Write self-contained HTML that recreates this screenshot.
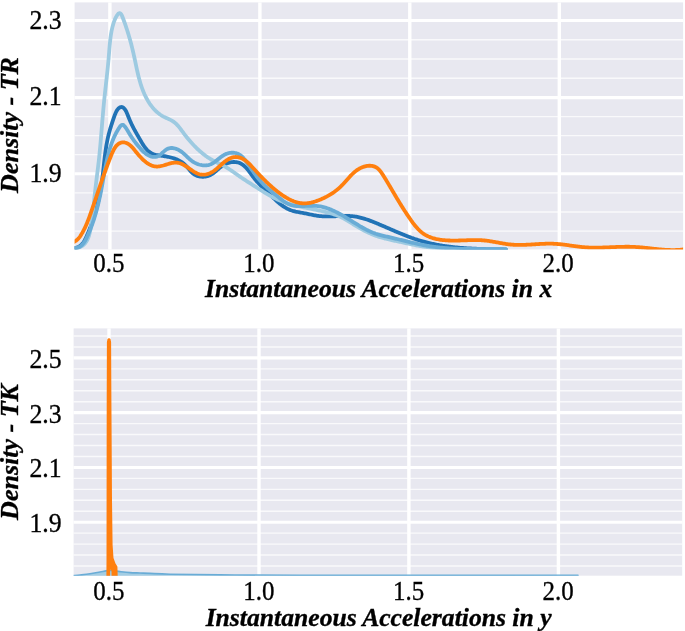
<!DOCTYPE html>
<html><head><meta charset="utf-8"><style>
html,body{margin:0;padding:0;background:#fff;width:685px;height:631px;overflow:hidden}
svg{display:block;will-change:transform}
.t{font-family:"Liberation Serif",serif;font-size:27.5px;fill:#000;stroke:#000;stroke-width:0.35px}
.l{font-family:"Liberation Serif",serif;font-size:26px;font-weight:bold;font-style:italic;fill:#000;stroke:#000;stroke-width:0.35px}
</style></head><body>
<svg width="685" height="631" viewBox="0 0 685 631">
<defs>
<clipPath id="c1"><rect x="74.6" y="2.4" width="608.5" height="247.0"/></clipPath>
<clipPath id="c2"><rect x="73.6" y="328.4" width="608.6" height="247.30000000000007"/></clipPath>
</defs>
<rect x="74.60" y="2.40" width="608.50" height="247.00" fill="#e8e8f0"/>
<line x1="74.60" x2="683.10" y1="39.77" y2="39.77" stroke="#fff" stroke-width="1.4" stroke-opacity="0.75"/>
<line x1="74.60" x2="683.10" y1="59.05" y2="59.05" stroke="#fff" stroke-width="1.4" stroke-opacity="0.75"/>
<line x1="74.60" x2="683.10" y1="78.32" y2="78.32" stroke="#fff" stroke-width="1.4" stroke-opacity="0.75"/>
<line x1="74.60" x2="683.10" y1="116.62" y2="116.62" stroke="#fff" stroke-width="1.4" stroke-opacity="0.75"/>
<line x1="74.60" x2="683.10" y1="135.65" y2="135.65" stroke="#fff" stroke-width="1.4" stroke-opacity="0.75"/>
<line x1="74.60" x2="683.10" y1="154.67" y2="154.67" stroke="#fff" stroke-width="1.4" stroke-opacity="0.75"/>
<line x1="74.60" x2="683.10" y1="192.85" y2="192.85" stroke="#fff" stroke-width="1.4" stroke-opacity="0.75"/>
<line x1="74.60" x2="683.10" y1="212.00" y2="212.00" stroke="#fff" stroke-width="1.4" stroke-opacity="0.75"/>
<line x1="74.60" x2="683.10" y1="231.15" y2="231.15" stroke="#fff" stroke-width="1.4" stroke-opacity="0.75"/>
<line x1="74.60" x2="683.10" y1="20.50" y2="20.50" stroke="#fff" stroke-width="3.1"/>
<line x1="74.60" x2="683.10" y1="97.60" y2="97.60" stroke="#fff" stroke-width="3.1"/>
<line x1="74.60" x2="683.10" y1="173.70" y2="173.70" stroke="#fff" stroke-width="3.1"/>
<line x1="109.90" x2="109.90" y1="2.40" y2="249.40" stroke="#fff" stroke-width="3.4"/>
<line x1="259.90" x2="259.90" y1="2.40" y2="249.40" stroke="#fff" stroke-width="3.4"/>
<line x1="409.80" x2="409.80" y1="2.40" y2="249.40" stroke="#fff" stroke-width="3.4"/>
<line x1="559.30" x2="559.30" y1="2.40" y2="249.40" stroke="#fff" stroke-width="3.4"/>
<rect x="73.60" y="328.40" width="608.60" height="247.30" fill="#e8e8f0"/>
<line x1="73.60" x2="682.20" y1="335.99" y2="335.99" stroke="#fff" stroke-width="1.4" stroke-opacity="0.75"/>
<line x1="73.60" x2="682.20" y1="346.95" y2="346.95" stroke="#fff" stroke-width="1.4" stroke-opacity="0.75"/>
<line x1="73.60" x2="682.20" y1="368.85" y2="368.85" stroke="#fff" stroke-width="1.4" stroke-opacity="0.75"/>
<line x1="73.60" x2="682.20" y1="379.81" y2="379.81" stroke="#fff" stroke-width="1.4" stroke-opacity="0.75"/>
<line x1="73.60" x2="682.20" y1="390.76" y2="390.76" stroke="#fff" stroke-width="1.4" stroke-opacity="0.75"/>
<line x1="73.60" x2="682.20" y1="401.71" y2="401.71" stroke="#fff" stroke-width="1.4" stroke-opacity="0.75"/>
<line x1="73.60" x2="682.20" y1="423.62" y2="423.62" stroke="#fff" stroke-width="1.4" stroke-opacity="0.75"/>
<line x1="73.60" x2="682.20" y1="434.57" y2="434.57" stroke="#fff" stroke-width="1.4" stroke-opacity="0.75"/>
<line x1="73.60" x2="682.20" y1="445.53" y2="445.53" stroke="#fff" stroke-width="1.4" stroke-opacity="0.75"/>
<line x1="73.60" x2="682.20" y1="456.48" y2="456.48" stroke="#fff" stroke-width="1.4" stroke-opacity="0.75"/>
<line x1="73.60" x2="682.20" y1="478.39" y2="478.39" stroke="#fff" stroke-width="1.4" stroke-opacity="0.75"/>
<line x1="73.60" x2="682.20" y1="489.34" y2="489.34" stroke="#fff" stroke-width="1.4" stroke-opacity="0.75"/>
<line x1="73.60" x2="682.20" y1="500.29" y2="500.29" stroke="#fff" stroke-width="1.4" stroke-opacity="0.75"/>
<line x1="73.60" x2="682.20" y1="511.25" y2="511.25" stroke="#fff" stroke-width="1.4" stroke-opacity="0.75"/>
<line x1="73.60" x2="682.20" y1="533.15" y2="533.15" stroke="#fff" stroke-width="1.4" stroke-opacity="0.75"/>
<line x1="73.60" x2="682.20" y1="544.11" y2="544.11" stroke="#fff" stroke-width="1.4" stroke-opacity="0.75"/>
<line x1="73.60" x2="682.20" y1="555.06" y2="555.06" stroke="#fff" stroke-width="1.4" stroke-opacity="0.75"/>
<line x1="73.60" x2="682.20" y1="566.01" y2="566.01" stroke="#fff" stroke-width="1.4" stroke-opacity="0.75"/>
<line x1="73.60" x2="682.20" y1="357.90" y2="357.90" stroke="#fff" stroke-width="3.1"/>
<line x1="73.60" x2="682.20" y1="412.67" y2="412.67" stroke="#fff" stroke-width="3.1"/>
<line x1="73.60" x2="682.20" y1="467.43" y2="467.43" stroke="#fff" stroke-width="3.1"/>
<line x1="73.60" x2="682.20" y1="522.20" y2="522.20" stroke="#fff" stroke-width="3.1"/>
<line x1="109.00" x2="109.00" y1="328.40" y2="575.70" stroke="#fff" stroke-width="3.4"/>
<line x1="259.00" x2="259.00" y1="328.40" y2="575.70" stroke="#fff" stroke-width="3.4"/>
<line x1="408.90" x2="408.90" y1="328.40" y2="575.70" stroke="#fff" stroke-width="3.4"/>
<line x1="558.40" x2="558.40" y1="328.40" y2="575.70" stroke="#fff" stroke-width="3.4"/>
<path d="M71.78,247.91 L73.00,247.98 L74.15,247.97 L75.23,247.86 L76.25,247.67 L77.21,247.39 L78.11,247.04 L78.96,246.63 L79.76,246.14 L80.51,245.59 L81.21,244.99 L81.87,244.33 L82.49,243.62 L83.08,242.87 L83.64,242.08 L84.16,241.25 L84.66,240.40 L85.14,239.51 L85.59,238.61 L86.03,237.69 L86.46,236.76 L86.87,235.82 L87.28,234.87 L87.68,233.93 L88.07,232.98 L88.46,232.04 L88.85,231.10 L89.23,230.15 L89.60,229.20 L89.97,228.26 L90.33,227.31 L90.69,226.37 L91.05,225.42 L91.39,224.47 L91.74,223.53 L92.07,222.58 L92.41,221.63 L92.73,220.68 L93.05,219.73 L93.37,218.78 L93.68,217.83 L93.99,216.88 L94.29,215.93 L94.59,214.97 L94.88,214.02 L95.17,213.07 L95.45,212.11 L95.73,211.16 L96.00,210.20 L96.26,209.24 L96.53,208.28 L96.78,207.33 L97.04,206.37 L97.28,205.40 L97.53,204.44 L97.77,203.48 L98.00,202.52 L98.23,201.55 L98.45,200.59 L98.67,199.62 L98.89,198.65 L99.10,197.68 L99.30,196.71 L99.50,195.74 L99.70,194.77 L99.89,193.79 L100.08,192.82 L100.26,191.84 L100.44,190.86 L100.62,189.89 L100.79,188.90 L100.95,187.92 L101.11,186.94 L101.27,185.95 L101.42,184.97 L101.57,183.98 L101.71,182.99 L101.85,182.00 L101.99,181.01 L102.12,180.01 L102.25,179.02 L102.38,178.02 L102.50,177.03 L102.62,176.03 L102.74,175.03 L102.86,174.03 L102.97,173.03 L103.09,172.03 L103.20,171.03 L103.31,170.03 L103.42,169.03 L103.53,168.03 L103.64,167.03 L103.75,166.03 L103.86,165.03 L103.97,164.03 L104.08,163.03 L104.19,162.03 L104.30,161.03 L104.42,160.03 L104.53,159.03 L104.65,158.03 L104.77,157.03 L104.89,156.04 L105.02,155.04 L105.14,154.05 L105.27,153.06 L105.41,152.06 L105.54,151.07 L105.69,150.09 L105.83,149.10 L105.98,148.11 L106.13,147.13 L106.29,146.15 L106.46,145.17 L106.63,144.19 L106.80,143.21 L106.98,142.24 L107.17,141.27 L107.36,140.30 L107.56,139.34 L107.77,138.37 L107.98,137.41 L108.20,136.45 L108.43,135.50 L108.67,134.54 L108.91,133.59 L109.16,132.64 L109.41,131.69 L109.68,130.74 L109.95,129.79 L110.22,128.84 L110.51,127.88 L110.80,126.93 L111.09,125.97 L111.39,125.01 L111.70,124.05 L112.02,123.09 L112.34,122.12 L112.67,121.14 L113.00,120.16 L113.34,119.18 L113.68,118.19 L114.03,117.19 L114.39,116.18 L114.75,115.18 L115.13,114.17 L115.53,113.19 L115.96,112.23 L116.42,111.31 L116.93,110.43 L117.49,109.61 L118.10,108.85 L118.76,108.19 L119.45,107.64 L120.17,107.25 L120.90,107.03 L121.64,107.01 L122.36,107.19 L123.07,107.55 L123.75,108.06 L124.39,108.71 L124.99,109.46 L125.53,110.29 L126.04,111.20 L126.51,112.16 L126.95,113.16 L127.37,114.20 L127.78,115.24 L128.18,116.28 L128.58,117.30 L128.99,118.31 L129.40,119.29 L129.81,120.25 L130.22,121.19 L130.64,122.12 L131.06,123.03 L131.48,123.93 L131.91,124.81 L132.34,125.69 L132.77,126.55 L133.21,127.41 L133.65,128.26 L134.10,129.10 L134.55,129.94 L135.01,130.78 L135.47,131.61 L135.93,132.44 L136.40,133.28 L136.88,134.11 L137.36,134.96 L137.85,135.80 L138.34,136.65 L138.83,137.51 L139.34,138.38 L139.84,139.26 L140.36,140.16 L140.88,141.06 L141.41,141.96 L141.95,142.86 L142.50,143.76 L143.06,144.66 L143.64,145.54 L144.23,146.40 L144.84,147.24 L145.47,148.06 L146.12,148.85 L146.79,149.60 L147.48,150.32 L148.20,150.99 L148.94,151.62 L149.70,152.20 L150.50,152.73 L151.33,153.20 L152.18,153.61 L153.06,153.97 L153.97,154.28 L154.89,154.55 L155.84,154.79 L156.80,155.00 L157.78,155.18 L158.77,155.35 L159.77,155.50 L160.77,155.64 L161.78,155.79 L162.80,155.93 L163.81,156.09 L164.82,156.25 L165.83,156.42 L166.84,156.61 L167.84,156.80 L168.84,157.01 L169.83,157.24 L170.82,157.48 L171.80,157.74 L172.77,158.02 L173.72,158.31 L174.67,158.63 L175.61,158.97 L176.53,159.34 L177.44,159.73 L178.33,160.14 L179.20,160.58 L180.06,161.06 L180.90,161.56 L181.72,162.09 L182.52,162.65 L183.30,163.25 L184.05,163.88 L184.78,164.55 L185.49,165.26 L186.18,165.99 L186.85,166.75 L187.51,167.52 L188.17,168.31 L188.82,169.09 L189.48,169.87 L190.14,170.64 L190.82,171.39 L191.52,172.11 L192.24,172.80 L192.99,173.45 L193.77,174.05 L194.59,174.60 L195.45,175.09 L196.35,175.51 L197.28,175.87 L198.24,176.18 L199.22,176.42 L200.22,176.60 L201.23,176.72 L202.25,176.78 L203.27,176.78 L204.30,176.72 L205.31,176.61 L206.31,176.43 L207.30,176.20 L208.26,175.91 L209.20,175.57 L210.10,175.17 L210.98,174.72 L211.83,174.22 L212.65,173.68 L213.46,173.11 L214.25,172.50 L215.02,171.88 L215.79,171.23 L216.55,170.57 L217.31,169.90 L218.07,169.23 L218.83,168.56 L219.61,167.90 L220.39,167.25 L221.19,166.63 L222.01,166.02 L222.84,165.45 L223.71,164.91 L224.60,164.41 L225.52,163.96 L226.46,163.54 L227.41,163.18 L228.39,162.86 L229.37,162.58 L230.36,162.36 L231.36,162.19 L232.35,162.07 L233.35,162.00 L234.33,161.99 L235.31,162.03 L236.27,162.13 L237.22,162.29 L238.14,162.51 L239.04,162.80 L239.92,163.14 L240.76,163.55 L241.58,164.01 L242.38,164.53 L243.15,165.09 L243.91,165.70 L244.64,166.35 L245.36,167.04 L246.06,167.76 L246.74,168.51 L247.41,169.29 L248.07,170.09 L248.73,170.91 L249.37,171.75 L250.01,172.59 L250.64,173.45 L251.26,174.30 L251.89,175.16 L252.52,176.01 L253.14,176.86 L253.77,177.69 L254.41,178.51 L255.04,179.31 L255.69,180.10 L256.34,180.87 L257.00,181.62 L257.66,182.36 L258.32,183.08 L258.99,183.80 L259.67,184.50 L260.35,185.20 L261.03,185.89 L261.71,186.57 L262.40,187.25 L263.09,187.92 L263.79,188.60 L264.49,189.27 L265.19,189.94 L265.89,190.61 L266.60,191.29 L267.30,191.97 L268.01,192.66 L268.72,193.35 L269.43,194.05 L270.14,194.75 L270.86,195.46 L271.57,196.17 L272.30,196.87 L273.02,197.58 L273.75,198.29 L274.48,198.99 L275.22,199.69 L275.97,200.39 L276.72,201.07 L277.48,201.75 L278.24,202.41 L279.01,203.07 L279.79,203.71 L280.58,204.34 L281.38,204.95 L282.18,205.54 L283.00,206.12 L283.83,206.67 L284.66,207.21 L285.51,207.72 L286.37,208.21 L287.25,208.67 L288.13,209.10 L289.03,209.51 L289.94,209.89 L290.87,210.23 L291.81,210.55 L292.75,210.84 L293.72,211.11 L294.68,211.36 L295.66,211.60 L296.65,211.81 L297.64,212.01 L298.63,212.21 L299.63,212.39 L300.63,212.57 L301.63,212.75 L302.63,212.93 L303.63,213.11 L304.63,213.29 L305.62,213.48 L306.61,213.68 L307.60,213.88 L308.58,214.09 L309.57,214.29 L310.55,214.50 L311.53,214.70 L312.50,214.90 L313.48,215.09 L314.46,215.28 L315.43,215.46 L316.41,215.62 L317.39,215.77 L318.37,215.91 L319.35,216.03 L320.33,216.14 L321.31,216.23 L322.30,216.30 L323.29,216.36 L324.28,216.41 L325.27,216.44 L326.26,216.46 L327.26,216.47 L328.25,216.47 L329.25,216.46 L330.25,216.44 L331.25,216.42 L332.25,216.39 L333.26,216.35 L334.26,216.31 L335.27,216.27 L336.28,216.22 L337.29,216.18 L338.29,216.13 L339.30,216.09 L340.31,216.05 L341.32,216.01 L342.33,215.98 L343.34,215.96 L344.35,215.94 L345.36,215.93 L346.36,215.93 L347.36,215.94 L348.36,215.96 L349.36,216.00 L350.36,216.05 L351.35,216.12 L352.34,216.21 L353.33,216.31 L354.31,216.43 L355.29,216.58 L356.26,216.74 L357.24,216.91 L358.20,217.11 L359.17,217.32 L360.13,217.54 L361.09,217.79 L362.05,218.04 L363.00,218.31 L363.95,218.59 L364.90,218.88 L365.85,219.19 L366.80,219.50 L367.74,219.83 L368.68,220.16 L369.62,220.51 L370.55,220.86 L371.49,221.21 L372.42,221.58 L373.35,221.94 L374.28,222.32 L375.21,222.70 L376.14,223.08 L377.07,223.46 L378.00,223.85 L378.92,224.24 L379.85,224.63 L380.77,225.02 L381.70,225.41 L382.62,225.81 L383.54,226.20 L384.47,226.60 L385.39,227.00 L386.31,227.40 L387.23,227.80 L388.15,228.20 L389.08,228.60 L390.00,229.00 L390.92,229.39 L391.84,229.79 L392.76,230.19 L393.68,230.59 L394.60,230.98 L395.53,231.38 L396.45,231.77 L397.37,232.16 L398.29,232.55 L399.22,232.94 L400.14,233.32 L401.07,233.70 L401.99,234.08 L402.92,234.46 L403.85,234.83 L404.78,235.20 L405.70,235.57 L406.64,235.93 L407.57,236.29 L408.50,236.65 L409.43,237.00 L410.37,237.34 L411.30,237.69 L412.24,238.02 L413.18,238.36 L414.12,238.68 L415.06,239.01 L416.01,239.32 L416.95,239.63 L417.90,239.94 L418.85,240.24 L419.80,240.53 L420.75,240.82 L421.71,241.10 L422.66,241.37 L423.62,241.64 L424.58,241.90 L425.54,242.15 L426.51,242.40 L427.47,242.64 L428.44,242.88 L429.41,243.11 L430.38,243.33 L431.35,243.55 L432.32,243.77 L433.30,243.97 L434.27,244.18 L435.25,244.37 L436.23,244.57 L437.21,244.75 L438.19,244.93 L439.17,245.11 L440.16,245.28 L441.14,245.45 L442.13,245.61 L443.11,245.76 L444.10,245.92 L445.09,246.06 L446.08,246.21 L447.07,246.34 L448.06,246.48 L449.06,246.61 L450.05,246.73 L451.05,246.85 L452.04,246.97 L453.04,247.08 L454.04,247.19 L455.03,247.30 L456.03,247.40 L457.03,247.50 L458.03,247.59 L459.03,247.68 L460.03,247.77 L461.03,247.85 L462.03,247.93 L463.03,248.01 L464.04,248.08 L465.04,248.15 L466.04,248.22 L467.04,248.28 L468.05,248.34 L469.05,248.40 L470.05,248.46 L471.06,248.51 L472.06,248.56 L473.06,248.61 L474.07,248.66 L475.07,248.70 L476.07,248.74 L477.08,248.78 L478.08,248.82 L479.08,248.85 L480.08,248.89 L481.09,248.92 L482.09,248.95 L483.09,248.97 L484.09,249.00 L485.09,249.02 L486.09,249.05 L487.09,249.07 L488.09,249.09 L489.09,249.11 L490.09,249.12 L491.09,249.14 L492.08,249.15 L493.08,249.17 L494.07,249.18 L495.07,249.19 L496.06,249.21 L497.06,249.22 L498.05,249.23 L499.04,249.24 L500.03,249.25 L501.02,249.26 L502.01,249.26 L502.99,249.27 L503.98,249.28 L504.96,249.29 L505.95,249.30" fill="none" stroke="#2173b6" stroke-width="3.80" stroke-linecap="round" stroke-linejoin="round" clip-path="url(#c1)"/>
<path d="M72.01,248.53 L72.97,248.59 L73.95,248.58 L74.95,248.49 L75.96,248.34 L76.98,248.13 L77.98,247.85 L78.97,247.51 L79.93,247.12 L80.85,246.67 L81.74,246.17 L82.57,245.62 L83.35,245.02 L84.07,244.37 L84.74,243.69 L85.36,242.96 L85.93,242.20 L86.46,241.40 L86.95,240.57 L87.40,239.71 L87.81,238.83 L88.19,237.92 L88.54,236.99 L88.86,236.03 L89.16,235.07 L89.43,234.09 L89.68,233.10 L89.92,232.09 L90.14,231.09 L90.34,230.08 L90.54,229.07 L90.73,228.06 L90.91,227.05 L91.09,226.04 L91.26,225.04 L91.42,224.04 L91.58,223.03 L91.73,222.03 L91.88,221.03 L92.02,220.04 L92.15,219.04 L92.29,218.05 L92.41,217.05 L92.54,216.06 L92.66,215.06 L92.78,214.07 L92.89,213.08 L93.00,212.09 L93.11,211.10 L93.21,210.11 L93.32,209.13 L93.42,208.14 L93.52,207.15 L93.62,206.17 L93.72,205.18 L93.81,204.19 L93.91,203.21 L94.00,202.22 L94.10,201.24 L94.20,200.25 L94.29,199.26 L94.39,198.28 L94.49,197.29 L94.59,196.31 L94.69,195.32 L94.79,194.33 L94.89,193.34 L95.00,192.36 L95.11,191.37 L95.22,190.38 L95.33,189.39 L95.45,188.40 L95.56,187.41 L95.68,186.42 L95.79,185.43 L95.91,184.44 L96.03,183.45 L96.15,182.46 L96.27,181.47 L96.40,180.47 L96.52,179.48 L96.64,178.49 L96.77,177.50 L96.89,176.50 L97.01,175.51 L97.14,174.52 L97.26,173.52 L97.38,172.53 L97.51,171.54 L97.63,170.54 L97.75,169.55 L97.87,168.55 L97.99,167.56 L98.11,166.56 L98.23,165.57 L98.35,164.57 L98.46,163.58 L98.58,162.58 L98.69,161.59 L98.80,160.59 L98.91,159.60 L99.02,158.60 L99.13,157.60 L99.23,156.61 L99.33,155.61 L99.44,154.62 L99.54,153.62 L99.63,152.63 L99.73,151.63 L99.83,150.64 L99.92,149.64 L100.02,148.64 L100.11,147.65 L100.20,146.65 L100.29,145.66 L100.38,144.66 L100.47,143.67 L100.55,142.67 L100.64,141.67 L100.72,140.68 L100.81,139.68 L100.89,138.69 L100.98,137.69 L101.06,136.70 L101.14,135.70 L101.22,134.70 L101.31,133.71 L101.39,132.71 L101.47,131.72 L101.55,130.72 L101.63,129.73 L101.71,128.73 L101.79,127.74 L101.87,126.74 L101.95,125.75 L102.03,124.75 L102.11,123.76 L102.19,122.76 L102.27,121.77 L102.35,120.77 L102.44,119.78 L102.52,118.78 L102.60,117.79 L102.68,116.79 L102.77,115.80 L102.85,114.80 L102.94,113.81 L103.02,112.82 L103.11,111.82 L103.20,110.83 L103.29,109.83 L103.38,108.84 L103.47,107.85 L103.56,106.85 L103.65,105.86 L103.75,104.87 L103.84,103.87 L103.94,102.88 L104.04,101.89 L104.14,100.90 L104.24,99.90 L104.34,98.91 L104.44,97.92 L104.55,96.93 L104.65,95.93 L104.76,94.94 L104.87,93.95 L104.98,92.96 L105.08,91.97 L105.19,90.97 L105.30,89.98 L105.41,88.99 L105.53,88.00 L105.64,87.00 L105.75,86.01 L105.86,85.02 L105.97,84.03 L106.08,83.04 L106.20,82.04 L106.31,81.05 L106.42,80.06 L106.53,79.07 L106.64,78.07 L106.75,77.08 L106.86,76.09 L106.97,75.09 L107.08,74.10 L107.19,73.11 L107.29,72.11 L107.40,71.12 L107.51,70.12 L107.61,69.13 L107.71,68.14 L107.81,67.14 L107.91,66.15 L108.01,65.15 L108.11,64.15 L108.20,63.16 L108.30,62.16 L108.39,61.16 L108.48,60.17 L108.57,59.17 L108.65,58.17 L108.74,57.17 L108.82,56.18 L108.90,55.18 L108.98,54.18 L109.06,53.18 L109.14,52.18 L109.21,51.18 L109.29,50.18 L109.37,49.19 L109.45,48.19 L109.54,47.19 L109.62,46.20 L109.71,45.20 L109.80,44.21 L109.89,43.22 L109.99,42.23 L110.10,41.24 L110.20,40.25 L110.32,39.26 L110.44,38.28 L110.56,37.30 L110.70,36.32 L110.84,35.34 L110.98,34.37 L111.14,33.39 L111.31,32.42 L111.48,31.45 L111.67,30.48 L111.87,29.51 L112.08,28.55 L112.31,27.58 L112.55,26.61 L112.81,25.64 L113.08,24.67 L113.37,23.70 L113.68,22.73 L114.02,21.75 L114.37,20.78 L114.76,19.80 L115.17,18.83 L115.63,17.86 L116.12,16.90 L116.66,15.96 L117.23,15.07 L117.82,14.29 L118.42,13.67 L119.03,13.26 L119.63,13.11 L120.21,13.24 L120.76,13.65 L121.25,14.29 L121.70,15.11 L122.11,16.04 L122.50,17.04 L122.88,18.04 L123.26,19.03 L123.63,20.02 L123.99,21.01 L124.35,21.99 L124.70,22.97 L125.05,23.95 L125.39,24.93 L125.72,25.90 L126.05,26.87 L126.38,27.83 L126.70,28.80 L127.01,29.76 L127.32,30.72 L127.62,31.68 L127.92,32.63 L128.22,33.59 L128.51,34.54 L128.79,35.50 L129.08,36.45 L129.35,37.40 L129.63,38.35 L129.90,39.30 L130.16,40.25 L130.42,41.20 L130.68,42.15 L130.93,43.10 L131.18,44.05 L131.43,45.00 L131.67,45.96 L131.91,46.91 L132.15,47.86 L132.38,48.82 L132.61,49.78 L132.84,50.74 L133.07,51.70 L133.29,52.66 L133.51,53.62 L133.73,54.59 L133.94,55.56 L134.16,56.53 L134.37,57.51 L134.58,58.49 L134.79,59.47 L134.99,60.45 L135.20,61.43 L135.41,62.41 L135.62,63.40 L135.82,64.38 L136.03,65.37 L136.24,66.36 L136.45,67.34 L136.67,68.33 L136.88,69.32 L137.10,70.30 L137.33,71.29 L137.55,72.28 L137.78,73.26 L138.01,74.24 L138.25,75.22 L138.49,76.20 L138.74,77.18 L139.00,78.16 L139.26,79.13 L139.52,80.10 L139.79,81.07 L140.07,82.03 L140.36,83.00 L140.65,83.95 L140.96,84.91 L141.27,85.86 L141.59,86.81 L141.91,87.75 L142.25,88.69 L142.60,89.62 L142.96,90.55 L143.32,91.47 L143.70,92.39 L144.09,93.30 L144.49,94.21 L144.91,95.11 L145.33,96.00 L145.77,96.89 L146.22,97.77 L146.69,98.64 L147.17,99.51 L147.66,100.37 L148.16,101.22 L148.69,102.07 L149.22,102.90 L149.77,103.73 L150.34,104.55 L150.92,105.35 L151.52,106.15 L152.14,106.93 L152.77,107.70 L153.42,108.45 L154.08,109.19 L154.76,109.91 L155.46,110.62 L156.18,111.31 L156.91,111.98 L157.67,112.63 L158.44,113.26 L159.23,113.87 L160.04,114.46 L160.87,115.02 L161.72,115.56 L162.59,116.08 L163.47,116.57 L164.38,117.04 L165.31,117.48 L166.24,117.91 L167.18,118.34 L168.12,118.76 L169.06,119.18 L169.98,119.62 L170.88,120.08 L171.76,120.56 L172.61,121.08 L173.43,121.63 L174.22,122.22 L174.98,122.84 L175.72,123.49 L176.43,124.17 L177.11,124.88 L177.78,125.60 L178.43,126.35 L179.07,127.11 L179.70,127.89 L180.31,128.68 L180.92,129.48 L181.51,130.29 L182.11,131.10 L182.71,131.91 L183.30,132.73 L183.90,133.54 L184.50,134.34 L185.11,135.15 L185.72,135.94 L186.34,136.73 L186.97,137.51 L187.60,138.29 L188.23,139.06 L188.88,139.83 L189.52,140.59 L190.18,141.35 L190.84,142.10 L191.50,142.84 L192.17,143.58 L192.85,144.31 L193.54,145.03 L194.23,145.75 L194.92,146.47 L195.63,147.17 L196.34,147.87 L197.05,148.57 L197.77,149.25 L198.50,149.93 L199.24,150.61 L199.98,151.27 L200.73,151.93 L201.49,152.57 L202.26,153.21 L203.03,153.84 L203.81,154.46 L204.60,155.07 L205.40,155.67 L206.20,156.25 L207.01,156.83 L207.84,157.39 L208.66,157.94 L209.50,158.47 L210.35,159.00 L211.21,159.50 L212.07,160.00 L212.94,160.48 L213.82,160.95 L214.71,161.41 L215.60,161.86 L216.50,162.31 L217.39,162.76 L218.29,163.20 L219.19,163.64 L220.09,164.08 L220.99,164.52 L221.88,164.97 L222.77,165.43 L223.66,165.89 L224.54,166.37 L225.42,166.85 L226.28,167.35 L227.14,167.87 L227.99,168.39 L228.83,168.92 L229.67,169.47 L230.51,170.02 L231.34,170.58 L232.16,171.14 L232.99,171.71 L233.80,172.29 L234.62,172.87 L235.44,173.44 L236.25,174.02 L237.07,174.60 L237.89,175.18 L238.70,175.75 L239.52,176.32 L240.34,176.89 L241.16,177.45 L241.99,178.00 L242.81,178.56 L243.64,179.11 L244.47,179.66 L245.30,180.20 L246.13,180.75 L246.97,181.29 L247.80,181.83 L248.64,182.36 L249.48,182.90 L250.31,183.44 L251.15,183.97 L251.99,184.51 L252.84,185.04 L253.68,185.58 L254.52,186.11 L255.36,186.65 L256.21,187.19 L257.05,187.73 L257.90,188.27 L258.74,188.81 L259.59,189.35 L260.44,189.88 L261.29,190.42 L262.14,190.96 L262.99,191.49 L263.85,192.02 L264.71,192.55 L265.56,193.07 L266.43,193.59 L267.29,194.10 L268.15,194.61 L269.02,195.11 L269.89,195.60 L270.77,196.09 L271.65,196.57 L272.53,197.04 L273.41,197.51 L274.30,197.96 L275.19,198.40 L276.09,198.84 L276.98,199.26 L277.89,199.67 L278.80,200.07 L279.71,200.46 L280.63,200.84 L281.55,201.20 L282.47,201.56 L283.40,201.90 L284.33,202.24 L285.27,202.56 L286.21,202.87 L287.15,203.18 L288.10,203.48 L289.04,203.76 L290.00,204.04 L290.95,204.32 L291.91,204.58 L292.87,204.84 L293.83,205.09 L294.80,205.34 L295.77,205.58 L296.73,205.81 L297.71,206.04 L298.68,206.26 L299.65,206.48 L300.63,206.70 L301.61,206.91 L302.59,207.12 L303.57,207.33 L304.55,207.53 L305.53,207.73 L306.51,207.93 L307.50,208.13 L308.48,208.33 L309.47,208.53 L310.45,208.72 L311.44,208.92 L312.42,209.12 L313.41,209.32 L314.39,209.52 L315.38,209.72 L316.36,209.92 L317.34,210.13 L318.33,210.34 L319.31,210.55 L320.29,210.76 L321.27,210.98 L322.25,211.20 L323.22,211.43 L324.20,211.66 L325.17,211.90 L326.14,212.14 L327.11,212.39 L328.08,212.65 L329.05,212.91 L330.01,213.18 L330.97,213.46 L331.93,213.74 L332.88,214.04 L333.83,214.34 L334.78,214.66 L335.72,214.98 L336.66,215.32 L337.59,215.68 L338.51,216.04 L339.43,216.43 L340.34,216.82 L341.24,217.24 L342.13,217.67 L343.02,218.12 L343.89,218.59 L344.76,219.07 L345.63,219.56 L346.49,220.06 L347.35,220.57 L348.20,221.09 L349.05,221.62 L349.90,222.15 L350.75,222.68 L351.60,223.22 L352.44,223.75 L353.29,224.28 L354.15,224.81 L355.00,225.34 L355.86,225.86 L356.72,226.37 L357.58,226.89 L358.45,227.39 L359.32,227.89 L360.19,228.39 L361.07,228.88 L361.94,229.36 L362.82,229.84 L363.71,230.30 L364.59,230.77 L365.49,231.22 L366.38,231.67 L367.28,232.10 L368.18,232.53 L369.08,232.95 L369.99,233.37 L370.90,233.77 L371.82,234.16 L372.74,234.54 L373.66,234.91 L374.59,235.27 L375.52,235.62 L376.45,235.96 L377.39,236.29 L378.33,236.60 L379.28,236.91 L380.23,237.20 L381.19,237.49 L382.14,237.76 L383.11,238.03 L384.07,238.29 L385.03,238.54 L386.00,238.78 L386.97,239.02 L387.95,239.25 L388.92,239.48 L389.90,239.70 L390.87,239.92 L391.85,240.14 L392.83,240.35 L393.81,240.56 L394.79,240.77 L395.78,240.98 L396.76,241.18 L397.74,241.39 L398.72,241.60 L399.70,241.80 L400.68,242.01 L401.66,242.23 L402.64,242.44 L403.62,242.65 L404.60,242.86 L405.58,243.08 L406.56,243.29 L407.53,243.50 L408.51,243.71 L409.49,243.92 L410.47,244.13 L411.45,244.34 L412.42,244.54 L413.40,244.74 L414.38,244.94 L415.36,245.14 L416.34,245.32 L417.32,245.51 L418.30,245.69 L419.28,245.87 L420.26,246.04 L421.25,246.20 L422.23,246.36 L423.21,246.51 L424.20,246.66 L425.19,246.80 L426.17,246.94 L427.16,247.07 L428.15,247.20 L429.14,247.32 L430.13,247.44 L431.12,247.55 L432.11,247.66 L433.10,247.76 L434.09,247.86 L435.08,247.96 L436.08,248.05 L437.07,248.13 L438.06,248.21 L439.06,248.29 L440.05,248.37 L441.05,248.44 L442.05,248.50 L443.04,248.57 L444.04,248.63 L445.04,248.68 L446.03,248.74 L447.03,248.78 L448.03,248.83 L449.03,248.88 L450.03,248.92 L451.03,248.95 L452.03,248.99 L453.03,249.02 L454.03,249.05 L455.03,249.08 L456.03,249.10 L457.03,249.13 L458.03,249.15 L459.03,249.17 L460.04,249.18 L461.04,249.20 L462.04,249.21 L463.04,249.23 L464.04,249.24 L465.05,249.25 L466.05,249.25 L467.05,249.26 L468.05,249.26 L469.05,249.27 L470.06,249.27 L471.06,249.28 L472.06,249.28 L473.06,249.28 L474.07,249.28 L475.07,249.28 L476.07,249.28 L477.07,249.28 L478.07,249.28 L479.07,249.28 L480.08,249.28 L481.08,249.28 L482.08,249.28 L483.08,249.28 L484.08,249.28 L485.08,249.28 L486.08,249.28 L487.08,249.28 L488.08,249.29 L489.08,249.29 L490.08,249.30 L491.07,249.30 L492.07,249.31 L493.07,249.32 L494.07,249.33 L495.06,249.34 L496.06,249.36 L497.06,249.37 L498.05,249.39 L499.05,249.41 L500.04,249.43 L501.04,249.45 L502.03,249.48 L503.02,249.51 L504.01,249.54 L505.01,249.57 L506.00,249.60" fill="none" stroke="#9dcae1" stroke-width="3.80" stroke-linecap="round" stroke-linejoin="round" clip-path="url(#c1)"/>
<path d="M71.72,248.17 L72.97,248.27 L74.14,248.27 L75.25,248.18 L76.30,248.01 L77.29,247.75 L78.21,247.42 L79.09,247.02 L79.91,246.56 L80.68,246.03 L81.41,245.44 L82.09,244.80 L82.74,244.11 L83.34,243.38 L83.92,242.60 L84.47,241.79 L84.98,240.96 L85.48,240.09 L85.95,239.21 L86.41,238.30 L86.85,237.39 L87.28,236.47 L87.70,235.54 L88.11,234.61 L88.52,233.68 L88.92,232.75 L89.31,231.82 L89.70,230.89 L90.08,229.95 L90.45,229.02 L90.82,228.08 L91.18,227.14 L91.53,226.20 L91.88,225.26 L92.22,224.32 L92.55,223.38 L92.88,222.43 L93.20,221.49 L93.52,220.54 L93.83,219.59 L94.14,218.64 L94.44,217.69 L94.74,216.74 L95.03,215.78 L95.31,214.83 L95.59,213.87 L95.87,212.92 L96.14,211.96 L96.41,211.00 L96.67,210.04 L96.93,209.08 L97.18,208.12 L97.43,207.15 L97.67,206.19 L97.91,205.22 L98.15,204.26 L98.38,203.29 L98.61,202.32 L98.84,201.35 L99.06,200.38 L99.28,199.41 L99.50,198.44 L99.71,197.46 L99.92,196.49 L100.13,195.51 L100.33,194.54 L100.53,193.56 L100.73,192.58 L100.93,191.60 L101.12,190.62 L101.31,189.64 L101.50,188.66 L101.69,187.68 L101.87,186.69 L102.05,185.71 L102.24,184.73 L102.42,183.74 L102.59,182.75 L102.77,181.77 L102.95,180.78 L103.12,179.79 L103.30,178.81 L103.48,177.82 L103.65,176.83 L103.83,175.84 L104.01,174.86 L104.18,173.87 L104.36,172.88 L104.54,171.89 L104.72,170.91 L104.91,169.92 L105.09,168.94 L105.28,167.96 L105.47,166.97 L105.66,165.99 L105.86,165.01 L106.06,164.03 L106.26,163.05 L106.47,162.08 L106.68,161.10 L106.89,160.13 L107.11,159.16 L107.34,158.19 L107.57,157.22 L107.80,156.25 L108.04,155.29 L108.28,154.32 L108.53,153.36 L108.79,152.41 L109.05,151.45 L109.32,150.50 L109.60,149.55 L109.88,148.60 L110.17,147.66 L110.47,146.72 L110.78,145.78 L111.09,144.84 L111.41,143.91 L111.74,142.98 L112.08,142.06 L112.43,141.13 L112.79,140.21 L113.16,139.30 L113.55,138.38 L113.94,137.47 L114.35,136.55 L114.78,135.64 L115.22,134.73 L115.68,133.82 L116.15,132.91 L116.65,132.00 L117.16,131.09 L117.69,130.18 L118.24,129.27 L118.82,128.36 L119.41,127.44 L120.03,126.56 L120.66,125.78 L121.32,125.17 L121.99,124.82 L122.68,124.79 L123.37,125.09 L124.07,125.66 L124.75,126.41 L125.41,127.26 L126.03,128.16 L126.62,129.05 L127.19,129.94 L127.73,130.83 L128.26,131.72 L128.77,132.59 L129.29,133.46 L129.80,134.32 L130.32,135.17 L130.85,136.01 L131.39,136.84 L131.93,137.66 L132.49,138.47 L133.05,139.28 L133.61,140.08 L134.19,140.87 L134.77,141.66 L135.37,142.44 L135.97,143.22 L136.58,143.99 L137.20,144.76 L137.83,145.54 L138.47,146.31 L139.12,147.08 L139.78,147.85 L140.45,148.61 L141.13,149.37 L141.83,150.12 L142.54,150.85 L143.27,151.57 L144.01,152.26 L144.78,152.91 L145.56,153.54 L146.37,154.13 L147.20,154.67 L148.05,155.17 L148.93,155.62 L149.84,156.01 L150.78,156.35 L151.74,156.62 L152.73,156.81 L153.72,156.92 L154.71,156.94 L155.68,156.85 L156.62,156.65 L157.53,156.34 L158.40,155.91 L159.25,155.39 L160.07,154.81 L160.87,154.16 L161.67,153.48 L162.45,152.77 L163.24,152.05 L164.02,151.35 L164.82,150.67 L165.64,150.04 L166.47,149.46 L167.33,148.97 L168.22,148.57 L169.15,148.27 L170.11,148.09 L171.10,148.00 L172.10,148.01 L173.10,148.10 L174.11,148.27 L175.11,148.52 L176.09,148.82 L177.05,149.19 L177.97,149.60 L178.86,150.06 L179.71,150.55 L180.54,151.08 L181.33,151.64 L182.11,152.23 L182.86,152.85 L183.60,153.48 L184.32,154.13 L185.03,154.79 L185.74,155.47 L186.45,156.15 L187.15,156.83 L187.86,157.50 L188.57,158.18 L189.30,158.84 L190.04,159.49 L190.80,160.12 L191.58,160.73 L192.39,161.32 L193.22,161.88 L194.09,162.41 L194.98,162.90 L195.92,163.35 L196.88,163.77 L197.86,164.14 L198.87,164.47 L199.89,164.75 L200.92,164.98 L201.96,165.16 L203.00,165.29 L204.04,165.37 L205.07,165.39 L206.09,165.35 L207.09,165.25 L208.08,165.08 L209.04,164.86 L209.97,164.56 L210.87,164.21 L211.75,163.79 L212.60,163.33 L213.43,162.82 L214.25,162.27 L215.06,161.69 L215.85,161.09 L216.64,160.46 L217.42,159.83 L218.20,159.19 L218.98,158.54 L219.77,157.90 L220.57,157.28 L221.38,156.67 L222.20,156.09 L223.04,155.54 L223.90,155.03 L224.78,154.56 L225.69,154.14 L226.62,153.77 L227.56,153.46 L228.52,153.20 L229.50,152.99 L230.47,152.84 L231.45,152.75 L232.43,152.72 L233.41,152.75 L234.37,152.84 L235.32,153.00 L236.26,153.22 L237.17,153.51 L238.06,153.87 L238.93,154.29 L239.76,154.79 L240.55,155.35 L241.32,155.98 L242.06,156.65 L242.78,157.38 L243.47,158.14 L244.15,158.93 L244.80,159.75 L245.44,160.59 L246.07,161.45 L246.69,162.31 L247.29,163.16 L247.89,164.02 L248.49,164.87 L249.08,165.71 L249.66,166.56 L250.24,167.39 L250.81,168.23 L251.38,169.06 L251.96,169.88 L252.53,170.70 L253.10,171.51 L253.67,172.32 L254.24,173.12 L254.82,173.92 L255.40,174.71 L255.98,175.50 L256.57,176.27 L257.17,177.05 L257.77,177.81 L258.38,178.57 L259.00,179.32 L259.63,180.07 L260.27,180.81 L260.92,181.54 L261.58,182.26 L262.25,182.97 L262.93,183.68 L263.63,184.38 L264.34,185.08 L265.06,185.77 L265.78,186.45 L266.52,187.12 L267.26,187.80 L268.01,188.46 L268.77,189.13 L269.53,189.79 L270.30,190.44 L271.07,191.09 L271.85,191.74 L272.63,192.39 L273.42,193.04 L274.21,193.68 L275.00,194.32 L275.79,194.97 L276.58,195.61 L277.37,196.25 L278.16,196.89 L278.95,197.53 L279.73,198.17 L280.52,198.81 L281.31,199.44 L282.11,200.06 L282.90,200.67 L283.71,201.26 L284.52,201.82 L285.35,202.36 L286.18,202.88 L287.03,203.36 L287.89,203.81 L288.77,204.21 L289.66,204.58 L290.57,204.90 L291.51,205.17 L292.46,205.41 L293.42,205.60 L294.40,205.76 L295.39,205.89 L296.39,205.99 L297.40,206.05 L298.41,206.10 L299.44,206.12 L300.47,206.13 L301.50,206.12 L302.53,206.09 L303.56,206.06 L304.59,206.02 L305.62,205.97 L306.64,205.93 L307.66,205.88 L308.68,205.84 L309.69,205.80 L310.70,205.77 L311.70,205.76 L312.70,205.76 L313.70,205.77 L314.69,205.81 L315.68,205.86 L316.66,205.94 L317.63,206.05 L318.60,206.17 L319.57,206.32 L320.53,206.49 L321.49,206.68 L322.44,206.89 L323.39,207.13 L324.34,207.38 L325.28,207.64 L326.21,207.93 L327.15,208.24 L328.07,208.56 L329.00,208.89 L329.92,209.25 L330.84,209.61 L331.75,210.00 L332.66,210.39 L333.57,210.80 L334.47,211.22 L335.37,211.65 L336.27,212.09 L337.17,212.55 L338.06,213.01 L338.95,213.48 L339.83,213.97 L340.72,214.46 L341.60,214.95 L342.48,215.46 L343.36,215.97 L344.23,216.48 L345.11,217.00 L345.98,217.53 L346.85,218.06 L347.71,218.59 L348.58,219.12 L349.44,219.66 L350.31,220.19 L351.17,220.73 L352.03,221.27 L352.89,221.81 L353.74,222.34 L354.60,222.88 L355.46,223.41 L356.31,223.94 L357.17,224.46 L358.03,224.98 L358.88,225.50 L359.74,226.01 L360.60,226.52 L361.46,227.01 L362.32,227.51 L363.19,227.99 L364.06,228.47 L364.93,228.94 L365.80,229.40 L366.68,229.85 L367.56,230.29 L368.45,230.72 L369.34,231.14 L370.23,231.55 L371.14,231.94 L372.04,232.33 L372.95,232.70 L373.87,233.05 L374.80,233.39 L375.73,233.72 L376.67,234.03 L377.61,234.32 L378.56,234.60 L379.52,234.87 L380.49,235.13 L381.46,235.38 L382.43,235.61 L383.40,235.85 L384.38,236.07 L385.36,236.29 L386.34,236.52 L387.33,236.73 L388.31,236.96 L389.29,237.18 L390.27,237.40 L391.25,237.63 L392.23,237.86 L393.20,238.09 L394.18,238.32 L395.16,238.55 L396.13,238.79 L397.11,239.02 L398.08,239.26 L399.05,239.50 L400.03,239.74 L401.00,239.97 L401.97,240.21 L402.94,240.45 L403.92,240.69 L404.89,240.92 L405.86,241.16 L406.83,241.39 L407.80,241.63 L408.77,241.86 L409.74,242.09 L410.72,242.32 L411.69,242.55 L412.66,242.78 L413.63,243.00 L414.60,243.22 L415.58,243.44 L416.55,243.65 L417.52,243.87 L418.49,244.08 L419.47,244.28 L420.44,244.49 L421.42,244.69 L422.39,244.88 L423.37,245.07 L424.35,245.26 L425.33,245.44 L426.30,245.62 L427.28,245.79 L428.26,245.96 L429.25,246.12 L430.23,246.28 L431.21,246.43 L432.20,246.58 L433.18,246.72 L434.17,246.85 L435.16,246.98 L436.14,247.11 L437.13,247.23 L438.12,247.35 L439.12,247.46 L440.11,247.56 L441.10,247.66 L442.09,247.76 L443.09,247.85 L444.08,247.94 L445.08,248.03 L446.07,248.11 L447.07,248.19 L448.07,248.26 L449.06,248.33 L450.06,248.39 L451.06,248.45 L452.06,248.51 L453.06,248.57 L454.06,248.62 L455.06,248.67 L456.06,248.72 L457.06,248.76 L458.07,248.80 L459.07,248.84 L460.07,248.87 L461.07,248.90 L462.07,248.93 L463.08,248.96 L464.08,248.99 L465.08,249.01 L466.09,249.03 L467.09,249.05 L468.09,249.07 L469.10,249.08 L470.10,249.10 L471.10,249.11 L472.11,249.12 L473.11,249.13 L474.11,249.14 L475.12,249.15 L476.12,249.16 L477.12,249.16 L478.12,249.17 L479.13,249.17 L480.13,249.18 L481.13,249.18 L482.13,249.18 L483.13,249.18 L484.13,249.19 L485.13,249.19 L486.13,249.19 L487.13,249.19 L488.13,249.20 L489.13,249.20 L490.13,249.20 L491.12,249.21 L492.12,249.21 L493.12,249.22 L494.11,249.22 L495.11,249.23 L496.10,249.24 L497.10,249.25 L498.09,249.26 L499.08,249.27 L500.07,249.28 L501.06,249.30 L502.05,249.32 L503.04,249.33 L504.03,249.35 L505.01,249.38 L506.00,249.40" fill="none" stroke="#69acd6" stroke-width="3.80" stroke-linecap="round" stroke-linejoin="round" clip-path="url(#c1)"/>
<path d="M72.02,242.58 L73.01,242.29 L73.94,241.92 L74.82,241.48 L75.65,240.97 L76.44,240.39 L77.18,239.76 L77.88,239.08 L78.54,238.36 L79.18,237.59 L79.78,236.80 L80.36,235.97 L80.91,235.13 L81.45,234.27 L81.97,233.40 L82.48,232.53 L82.97,231.64 L83.45,230.75 L83.91,229.86 L84.36,228.96 L84.81,228.05 L85.24,227.13 L85.66,226.22 L86.07,225.29 L86.47,224.37 L86.86,223.44 L87.24,222.50 L87.62,221.57 L87.98,220.63 L88.35,219.68 L88.70,218.74 L89.05,217.80 L89.40,216.85 L89.74,215.90 L90.08,214.96 L90.42,214.01 L90.75,213.06 L91.08,212.12 L91.41,211.17 L91.74,210.23 L92.07,209.28 L92.39,208.34 L92.72,207.40 L93.04,206.46 L93.36,205.52 L93.68,204.58 L94.00,203.64 L94.32,202.70 L94.64,201.76 L94.96,200.82 L95.28,199.88 L95.59,198.95 L95.91,198.01 L96.23,197.07 L96.54,196.14 L96.86,195.20 L97.18,194.26 L97.49,193.33 L97.81,192.39 L98.12,191.46 L98.44,190.52 L98.76,189.58 L99.08,188.65 L99.39,187.71 L99.71,186.78 L100.03,185.84 L100.35,184.90 L100.67,183.97 L100.99,183.03 L101.32,182.09 L101.64,181.16 L101.97,180.22 L102.29,179.28 L102.62,178.34 L102.95,177.40 L103.28,176.46 L103.62,175.52 L103.95,174.58 L104.29,173.64 L104.62,172.70 L104.97,171.75 L105.31,170.81 L105.65,169.86 L106.00,168.92 L106.35,167.97 L106.70,167.03 L107.05,166.08 L107.41,165.13 L107.77,164.18 L108.13,163.23 L108.50,162.27 L108.86,161.32 L109.23,160.37 L109.61,159.41 L109.99,158.45 L110.37,157.49 L110.75,156.53 L111.14,155.57 L111.53,154.61 L111.92,153.65 L112.33,152.69 L112.74,151.75 L113.18,150.82 L113.63,149.91 L114.11,149.02 L114.61,148.17 L115.14,147.35 L115.71,146.57 L116.32,145.84 L116.97,145.16 L117.66,144.53 L118.40,143.96 L119.19,143.46 L120.03,143.04 L120.91,142.70 L121.81,142.47 L122.74,142.35 L123.67,142.35 L124.60,142.48 L125.52,142.72 L126.43,143.05 L127.33,143.46 L128.19,143.95 L129.03,144.50 L129.83,145.09 L130.58,145.73 L131.30,146.40 L131.98,147.09 L132.65,147.82 L133.29,148.56 L133.93,149.33 L134.57,150.11 L135.20,150.90 L135.85,151.70 L136.51,152.50 L137.17,153.31 L137.85,154.12 L138.54,154.92 L139.24,155.72 L139.95,156.51 L140.67,157.29 L141.40,158.06 L142.14,158.81 L142.89,159.54 L143.65,160.25 L144.43,160.93 L145.21,161.59 L146.01,162.22 L146.82,162.82 L147.63,163.38 L148.46,163.90 L149.30,164.39 L150.16,164.83 L151.02,165.23 L151.89,165.58 L152.78,165.88 L153.68,166.13 L154.59,166.32 L155.51,166.45 L156.44,166.52 L157.39,166.53 L158.34,166.47 L159.31,166.36 L160.29,166.20 L161.27,165.99 L162.26,165.75 L163.26,165.49 L164.26,165.20 L165.26,164.89 L166.27,164.58 L167.27,164.27 L168.28,163.96 L169.29,163.67 L170.29,163.40 L171.29,163.15 L172.28,162.94 L173.27,162.77 L174.25,162.65 L175.22,162.59 L176.18,162.59 L177.13,162.65 L178.07,162.79 L179.00,162.99 L179.92,163.25 L180.83,163.57 L181.73,163.94 L182.63,164.35 L183.51,164.80 L184.39,165.29 L185.26,165.81 L186.13,166.35 L186.99,166.91 L187.84,167.49 L188.69,168.08 L189.54,168.68 L190.38,169.27 L191.22,169.87 L192.06,170.45 L192.91,171.01 L193.75,171.56 L194.61,172.08 L195.47,172.57 L196.34,173.01 L197.23,173.42 L198.12,173.78 L199.04,174.09 L199.97,174.33 L200.93,174.51 L201.90,174.62 L202.90,174.66 L203.91,174.63 L204.93,174.53 L205.96,174.37 L206.97,174.15 L207.96,173.87 L208.94,173.55 L209.88,173.17 L210.79,172.76 L211.67,172.30 L212.52,171.81 L213.35,171.29 L214.16,170.73 L214.95,170.15 L215.73,169.54 L216.49,168.92 L217.24,168.27 L217.99,167.62 L218.73,166.95 L219.48,166.27 L220.22,165.59 L220.97,164.90 L221.72,164.22 L222.49,163.54 L223.27,162.88 L224.07,162.22 L224.88,161.58 L225.71,160.95 L226.56,160.36 L227.42,159.79 L228.30,159.26 L229.19,158.78 L230.10,158.34 L231.02,157.95 L231.95,157.62 L232.89,157.36 L233.84,157.16 L234.80,157.04 L235.76,157.00 L236.73,157.03 L237.70,157.14 L238.65,157.31 L239.59,157.55 L240.50,157.84 L241.39,158.19 L242.26,158.59 L243.11,159.04 L243.94,159.53 L244.75,160.07 L245.55,160.64 L246.33,161.25 L247.10,161.89 L247.86,162.55 L248.60,163.24 L249.34,163.96 L250.06,164.69 L250.78,165.43 L251.49,166.19 L252.19,166.95 L252.89,167.72 L253.59,168.49 L254.28,169.25 L254.97,170.01 L255.66,170.77 L256.35,171.52 L257.04,172.27 L257.73,173.02 L258.41,173.76 L259.10,174.49 L259.79,175.22 L260.48,175.95 L261.17,176.67 L261.86,177.38 L262.56,178.10 L263.25,178.80 L263.95,179.51 L264.65,180.20 L265.35,180.90 L266.05,181.59 L266.76,182.27 L267.48,182.95 L268.19,183.63 L268.91,184.30 L269.64,184.96 L270.37,185.63 L271.10,186.28 L271.84,186.93 L272.59,187.58 L273.34,188.22 L274.10,188.86 L274.86,189.50 L275.63,190.12 L276.41,190.75 L277.20,191.37 L277.99,191.98 L278.79,192.59 L279.60,193.20 L280.42,193.79 L281.24,194.38 L282.08,194.97 L282.92,195.54 L283.77,196.10 L284.62,196.65 L285.48,197.18 L286.35,197.71 L287.23,198.21 L288.11,198.70 L289.00,199.17 L289.90,199.62 L290.80,200.06 L291.71,200.47 L292.63,200.85 L293.55,201.22 L294.48,201.56 L295.41,201.87 L296.35,202.16 L297.29,202.42 L298.24,202.65 L299.20,202.84 L300.16,203.01 L301.12,203.14 L302.09,203.25 L303.07,203.31 L304.05,203.34 L305.03,203.33 L306.02,203.28 L307.01,203.20 L308.01,203.09 L309.00,202.95 L310.00,202.77 L310.99,202.57 L311.98,202.34 L312.98,202.09 L313.96,201.81 L314.95,201.52 L315.93,201.20 L316.90,200.87 L317.87,200.52 L318.83,200.16 L319.78,199.79 L320.72,199.41 L321.66,199.01 L322.58,198.61 L323.50,198.19 L324.41,197.76 L325.30,197.32 L326.19,196.87 L327.07,196.41 L327.95,195.93 L328.81,195.44 L329.66,194.94 L330.51,194.43 L331.34,193.91 L332.17,193.37 L332.99,192.82 L333.80,192.26 L334.60,191.68 L335.39,191.09 L336.17,190.49 L336.94,189.87 L337.70,189.25 L338.45,188.60 L339.20,187.95 L339.93,187.28 L340.66,186.59 L341.37,185.90 L342.08,185.19 L342.78,184.46 L343.47,183.72 L344.15,182.98 L344.83,182.23 L345.51,181.47 L346.18,180.71 L346.86,179.94 L347.53,179.18 L348.21,178.42 L348.89,177.66 L349.57,176.91 L350.26,176.17 L350.96,175.43 L351.66,174.71 L352.38,174.00 L353.11,173.31 L353.85,172.64 L354.60,171.98 L355.37,171.35 L356.16,170.73 L356.96,170.15 L357.78,169.59 L358.63,169.06 L359.49,168.56 L360.38,168.10 L361.30,167.66 L362.23,167.27 L363.19,166.92 L364.16,166.60 L365.14,166.34 L366.12,166.12 L367.12,165.94 L368.11,165.82 L369.09,165.76 L370.07,165.75 L371.04,165.80 L371.99,165.92 L372.93,166.09 L373.84,166.34 L374.73,166.65 L375.58,167.04 L376.41,167.50 L377.19,168.03 L377.95,168.64 L378.66,169.31 L379.35,170.03 L380.02,170.80 L380.66,171.62 L381.28,172.46 L381.88,173.33 L382.47,174.22 L383.04,175.12 L383.61,176.02 L384.17,176.92 L384.72,177.82 L385.27,178.71 L385.81,179.60 L386.35,180.48 L386.88,181.36 L387.41,182.24 L387.93,183.11 L388.45,183.98 L388.97,184.85 L389.48,185.72 L389.99,186.58 L390.49,187.44 L391.00,188.29 L391.50,189.15 L392.00,190.00 L392.50,190.85 L393.00,191.70 L393.50,192.55 L393.99,193.39 L394.49,194.24 L394.99,195.08 L395.48,195.92 L395.98,196.76 L396.48,197.60 L396.98,198.44 L397.48,199.27 L397.99,200.11 L398.49,200.95 L399.00,201.78 L399.51,202.62 L400.02,203.45 L400.54,204.29 L401.06,205.12 L401.58,205.96 L402.10,206.79 L402.63,207.63 L403.16,208.46 L403.70,209.30 L404.23,210.14 L404.77,210.97 L405.32,211.81 L405.87,212.65 L406.42,213.49 L406.98,214.33 L407.54,215.17 L408.11,216.01 L408.68,216.86 L409.26,217.70 L409.84,218.55 L410.43,219.39 L411.02,220.24 L411.62,221.08 L412.22,221.92 L412.84,222.76 L413.46,223.59 L414.08,224.41 L414.72,225.22 L415.37,226.02 L416.03,226.80 L416.70,227.57 L417.38,228.32 L418.07,229.06 L418.77,229.77 L419.49,230.47 L420.22,231.14 L420.97,231.78 L421.73,232.40 L422.50,232.99 L423.29,233.55 L424.10,234.09 L424.91,234.59 L425.75,235.08 L426.59,235.53 L427.45,235.96 L428.32,236.37 L429.20,236.75 L430.10,237.12 L431.00,237.45 L431.91,237.77 L432.84,238.07 L433.77,238.34 L434.72,238.60 L435.67,238.84 L436.63,239.06 L437.60,239.26 L438.57,239.44 L439.56,239.61 L440.54,239.76 L441.54,239.90 L442.54,240.02 L443.54,240.13 L444.55,240.22 L445.57,240.30 L446.58,240.37 L447.60,240.43 L448.63,240.48 L449.65,240.52 L450.68,240.55 L451.71,240.57 L452.74,240.58 L453.77,240.58 L454.80,240.58 L455.83,240.57 L456.86,240.56 L457.89,240.54 L458.91,240.52 L459.94,240.49 L460.96,240.46 L461.97,240.43 L462.99,240.39 L464.00,240.36 L465.00,240.32 L466.01,240.29 L467.01,240.25 L468.00,240.22 L468.99,240.19 L469.98,240.16 L470.97,240.14 L471.95,240.12 L472.93,240.10 L473.91,240.09 L474.89,240.09 L475.87,240.09 L476.85,240.10 L477.82,240.11 L478.80,240.14 L479.78,240.17 L480.75,240.22 L481.73,240.27 L482.71,240.34 L483.69,240.41 L484.67,240.50 L485.65,240.60 L486.63,240.72 L487.62,240.84 L488.60,240.98 L489.59,241.12 L490.58,241.27 L491.57,241.43 L492.56,241.60 L493.55,241.77 L494.55,241.94 L495.54,242.12 L496.54,242.30 L497.53,242.48 L498.53,242.67 L499.52,242.85 L500.52,243.03 L501.52,243.20 L502.52,243.38 L503.51,243.54 L504.51,243.70 L505.51,243.86 L506.51,244.01 L507.51,244.14 L508.50,244.27 L509.50,244.39 L510.50,244.50 L511.50,244.59 L512.49,244.67 L513.49,244.74 L514.48,244.79 L515.48,244.84 L516.47,244.87 L517.46,244.90 L518.46,244.91 L519.45,244.92 L520.44,244.92 L521.44,244.91 L522.43,244.89 L523.42,244.86 L524.42,244.83 L525.41,244.80 L526.40,244.76 L527.40,244.71 L528.39,244.66 L529.38,244.61 L530.38,244.55 L531.37,244.49 L532.37,244.43 L533.36,244.37 L534.36,244.31 L535.35,244.25 L536.35,244.19 L537.35,244.13 L538.34,244.07 L539.34,244.01 L540.34,243.96 L541.34,243.90 L542.34,243.86 L543.34,243.81 L544.35,243.78 L545.35,243.74 L546.35,243.72 L547.35,243.70 L548.36,243.68 L549.36,243.68 L550.36,243.68 L551.36,243.70 L552.36,243.72 L553.36,243.75 L554.36,243.80 L555.36,243.85 L556.36,243.91 L557.35,243.99 L558.35,244.07 L559.34,244.16 L560.34,244.26 L561.33,244.37 L562.32,244.48 L563.32,244.60 L564.31,244.72 L565.30,244.84 L566.29,244.97 L567.28,245.11 L568.27,245.24 L569.26,245.38 L570.25,245.52 L571.24,245.66 L572.23,245.80 L573.22,245.93 L574.21,246.07 L575.20,246.20 L576.19,246.34 L577.18,246.46 L578.17,246.59 L579.16,246.71 L580.15,246.82 L581.14,246.93 L582.13,247.03 L583.13,247.13 L584.12,247.22 L585.11,247.30 L586.10,247.37 L587.10,247.43 L588.09,247.48 L589.09,247.53 L590.08,247.56 L591.08,247.59 L592.07,247.62 L593.07,247.63 L594.07,247.65 L595.07,247.65 L596.06,247.65 L597.06,247.64 L598.06,247.63 L599.06,247.62 L600.06,247.60 L601.06,247.58 L602.06,247.55 L603.06,247.52 L604.06,247.49 L605.06,247.45 L606.06,247.42 L607.06,247.38 L608.06,247.34 L609.06,247.29 L610.06,247.25 L611.07,247.21 L612.07,247.17 L613.07,247.13 L614.07,247.08 L615.07,247.04 L616.07,247.01 L617.07,246.97 L618.08,246.93 L619.08,246.90 L620.08,246.87 L621.08,246.84 L622.08,246.82 L623.08,246.80 L624.08,246.78 L625.08,246.77 L626.08,246.76 L627.08,246.76 L628.08,246.76 L629.08,246.77 L630.08,246.79 L631.08,246.81 L632.08,246.84 L633.08,246.88 L634.08,246.92 L635.08,246.97 L636.07,247.03 L637.07,247.09 L638.07,247.16 L639.07,247.24 L640.06,247.32 L641.06,247.41 L642.05,247.50 L643.05,247.60 L644.05,247.69 L645.04,247.80 L646.04,247.90 L647.03,248.01 L648.03,248.11 L649.02,248.22 L650.02,248.33 L651.01,248.45 L652.01,248.56 L653.00,248.67 L654.00,248.78 L654.99,248.88 L655.99,248.99 L656.98,249.09 L657.98,249.19 L658.98,249.29 L659.97,249.38 L660.97,249.47 L661.96,249.56 L662.96,249.64 L663.96,249.71 L664.95,249.78 L665.95,249.84 L666.95,249.90 L667.95,249.95 L668.94,249.99 L669.94,250.02 L670.94,250.05 L671.94,250.06 L672.94,250.07 L673.94,250.06 L674.94,250.05 L675.94,250.02 L676.94,249.98 L677.95,249.93 L678.95,249.87 L679.95,249.80 L680.96,249.71 L681.96,249.61 L682.97,249.50 L683.97,249.37 L684.98,249.22 L685.98,249.06 L686.99,248.89 L688.00,248.70" fill="none" stroke="#ff7f0e" stroke-width="3.80" stroke-linecap="round" stroke-linejoin="round" clip-path="url(#c1)"/>
<path d="M73.60,575.60 L80.00,575.00 L90.00,573.80 L100.00,572.00 L106.00,570.90 L110.00,570.50 L114.00,570.80 L120.00,571.60 L130.00,572.60 L140.00,573.00 L150.00,573.40 L170.00,574.20 L220.00,574.90 L300.00,575.20 L578.00,575.40 L578.00,577.00 L73.60,577.00 Z" fill="#a3cde3" clip-path="url(#c2)"/>
<path d="M73.60,575.60 C74.67,575.50 77.27,575.30 80.00,575.00 C82.73,574.70 86.67,574.30 90.00,573.80 C93.33,573.30 97.33,572.48 100.00,572.00 C102.67,571.52 104.33,571.15 106.00,570.90 C107.67,570.65 108.67,570.52 110.00,570.50 C111.33,570.48 112.33,570.62 114.00,570.80 C115.67,570.98 117.33,571.30 120.00,571.60 C122.67,571.90 126.67,572.37 130.00,572.60 C133.33,572.83 136.67,572.87 140.00,573.00 C143.33,573.13 145.00,573.20 150.00,573.40 C155.00,573.60 158.33,573.95 170.00,574.20 C181.67,574.45 198.33,574.73 220.00,574.90 C241.67,575.07 240.33,575.12 300.00,575.20 C359.67,575.28 531.67,575.37 578.00,575.40" fill="none" stroke="#69acd6" stroke-width="1.60" stroke-linecap="round" stroke-linejoin="round" clip-path="url(#c2)"/>
<path d="M106.40,576.50 L106.50,560.00 L106.70,400.00 L106.90,342.00 L107.50,339.00 L109.00,337.90 L110.50,339.00 L111.10,342.00 L111.40,400.00 L112.00,500.00 L112.60,545.00 L113.50,558.00 L115.50,563.50 L117.40,566.50 L117.70,576.50 L111.60,576.50 L111.50,571.00 L110.80,569.50 L110.10,571.00 L110.10,576.50 Z" fill="#ff7f0e" clip-path="url(#c2)"/>
<text x="108.80" y="271.50" text-anchor="middle" class="t" textLength="31.20" lengthAdjust="spacingAndGlyphs">0.5</text>
<text x="108.80" y="599.60" text-anchor="middle" class="t" textLength="31.20" lengthAdjust="spacingAndGlyphs">0.5</text>
<text x="258.80" y="271.50" text-anchor="middle" class="t" textLength="31.20" lengthAdjust="spacingAndGlyphs">1.0</text>
<text x="258.80" y="599.60" text-anchor="middle" class="t" textLength="31.20" lengthAdjust="spacingAndGlyphs">1.0</text>
<text x="408.70" y="271.50" text-anchor="middle" class="t" textLength="31.20" lengthAdjust="spacingAndGlyphs">1.5</text>
<text x="408.70" y="599.60" text-anchor="middle" class="t" textLength="31.20" lengthAdjust="spacingAndGlyphs">1.5</text>
<text x="558.20" y="271.50" text-anchor="middle" class="t" textLength="31.20" lengthAdjust="spacingAndGlyphs">2.0</text>
<text x="558.20" y="599.60" text-anchor="middle" class="t" textLength="31.20" lengthAdjust="spacingAndGlyphs">2.0</text>
<text x="61.6" y="28.90" text-anchor="end" class="t" textLength="32.20" lengthAdjust="spacingAndGlyphs">2.3</text>
<text x="61.6" y="105.30" text-anchor="end" class="t" textLength="32.20" lengthAdjust="spacingAndGlyphs">2.1</text>
<text x="61.6" y="181.80" text-anchor="end" class="t" textLength="32.20" lengthAdjust="spacingAndGlyphs">1.9</text>
<text x="61.6" y="368.10" text-anchor="end" class="t" textLength="32.20" lengthAdjust="spacingAndGlyphs">2.5</text>
<text x="61.6" y="422.77" text-anchor="end" class="t" textLength="32.20" lengthAdjust="spacingAndGlyphs">2.3</text>
<text x="61.6" y="477.43" text-anchor="end" class="t" textLength="32.20" lengthAdjust="spacingAndGlyphs">2.1</text>
<text x="61.6" y="532.10" text-anchor="end" class="t" textLength="32.20" lengthAdjust="spacingAndGlyphs">1.9</text>
<text x="378.6" y="297" text-anchor="middle" class="l" textLength="347.3" lengthAdjust="spacingAndGlyphs">Instantaneous Accelerations in x</text>
<text x="378.6" y="625.5" text-anchor="middle" class="l" textLength="345.9" lengthAdjust="spacingAndGlyphs">Instantaneous Accelerations in y</text>
<text transform="translate(18,125) rotate(-90)" text-anchor="middle" class="l">Density - TR</text>
<text transform="translate(18,452) rotate(-90)" text-anchor="middle" class="l">Density - TK</text>
</svg>
</body></html>
